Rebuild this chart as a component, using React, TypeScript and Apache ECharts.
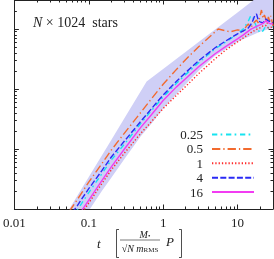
import React, { useEffect, useRef } from "react";
import * as echarts from "echarts";

// ---- axes ----
const xMin = 0.01;
const xMax = 30;
const yMin = 0.001;
const yMax = 3.04;
const xTickLabels = ["0.01", "0.1", "1", "10"];
const xMinorTicks = [
  0.02, 0.03, 0.04, 0.05, 0.06, 0.07, 0.08, 0.09,
  0.2, 0.3, 0.4, 0.5, 0.6, 0.7, 0.8, 0.9,
  2, 3, 4, 5, 6, 7, 8, 9, 20,
];
const yMinorTicks = [
  0.002, 0.003, 0.004, 0.005, 0.006, 0.007, 0.008, 0.009,
  0.02, 0.03, 0.04, 0.05, 0.06, 0.07, 0.08, 0.09,
  0.2, 0.3, 0.4, 0.5, 0.6, 0.7, 0.8, 0.9, 2, 3,
];

// ---- series ----
const seriesNames = ["0.25", "0.5", "1", "4", "16"];

const tA = [0.06, 0.07, 0.08, 0.1, 0.15, 0.2, 0.3, 0.5, 0.7, 1, 1.5, 2, 3, 5, 7, 10, 12, 14, 15, 16, 17, 18, 20, 22, 24, 26, 28, 30];
const yA = [7.2e-4, 9.6e-4, 1.23e-3, 1.88e-3, 3.86e-3, 6.5e-3, 0.01197, 0.0267, 0.0439, 0.0735, 0.123, 0.1734, 0.274, 0.468, 0.611, 0.83, 1.004, 1.362, 1.648, 1.589, 1.312, 1.084, 0.861, 0.929, 1.125, 1.042, 1.084, 1.084];

const tB = [0.055, 0.06, 0.07, 0.08, 0.1, 0.15, 0.2, 0.3, 0.5, 0.7, 1, 1.5, 2, 3, 5, 5.5, 7, 8, 10, 12, 13, 14, 15, 16, 17, 18, 19, 20, 21, 22, 23, 24, 25, 26, 27, 28, 30];
const yB = [9.2e-4, 1.08e-3, 1.43e-3, 1.84e-3, 2.81e-3, 5.68e-3, 9.51e-3, 0.0182, 0.0406, 0.0693, 0.12, 0.21, 0.308, 0.505, 0.895, 1.0, 0.929, 0.895, 0.966, 0.929, 1.084, 1.216, 1.042, 1.169, 1.31, 1.41, 1.262, 1.589, 2.07, 1.5, 1.714, 1.469, 1.216, 1.589, 1.362, 1.648, 1.125];

const tC = [0.07, 0.08, 0.1, 0.15, 0.2, 0.3, 0.5, 0.7, 1, 1.5, 2, 3, 5, 7, 10, 12, 15, 18, 20, 22, 24, 26, 28, 30];
const yC = [6.4e-4, 8.3e-4, 1.26e-3, 2.65e-3, 4.44e-3, 8.49e-3, 0.0182, 0.0288, 0.0473, 0.0778, 0.1097, 0.18, 0.319, 0.45, 0.611, 0.711, 0.861, 0.985, 1.042, 1.125, 1.147, 1.042, 1.063, 1.084];

const tD = [0.06, 0.07, 0.08, 0.1, 0.15, 0.2, 0.3, 0.5, 0.7, 1, 1.5, 2, 3, 5, 7, 10, 12, 14, 15, 16, 17, 18, 19, 20, 22, 24, 26, 28, 30];
const yD = [8.6e-4, 1.13e-3, 1.45e-3, 2.18e-3, 4.35e-3, 7.28e-3, 0.01343, 0.0288, 0.0473, 0.0793, 0.1327, 0.187, 0.296, 0.486, 0.635, 0.83, 0.929, 1.042, 1.169, 1.362, 1.648, 1.78, 1.415, 1.312, 1.262, 1.469, 1.362, 1.312, 1.262];

const tE = [0.07, 0.08, 0.1, 0.15, 0.2, 0.3, 0.5, 0.7, 1, 1.5, 2, 3, 5, 7, 10, 12, 15, 18, 20, 22, 24, 26, 28, 30];
const yE = [7.1e-4, 9.3e-4, 1.41e-3, 2.97e-3, 4.98e-3, 9.89e-3, 0.0229, 0.0376, 0.0643, 0.1074, 0.1486, 0.235, 0.386, 0.514, 0.686, 0.798, 0.985, 1.104, 1.169, 1.239, 1.362, 1.262, 1.216, 1.216];

// ---- shaded band ----
const bandUpperT = [0.0548, 0.1, 0.2, 0.3, 0.6, 1, 3, 10, 16.5, 30];
const bandUpperY = [0.001, 3.42e-3, 0.01405, 0.0321, 0.1327, 0.215, 0.604, 1.89, 3.04, 3.04];
const bandLowerT = [0.1038, 0.15, 0.2, 0.3, 0.5, 0.7, 1, 1.5, 2, 3, 5, 10, 20, 30];
const bandLowerY = [0.001, 1.99e-3, 3.27e-3, 6.75e-3, 0.01624, 0.0267, 0.0473, 0.0807, 0.1183, 0.2018, 0.358, 0.611, 0.895, 1.042];

const colors = ["#17e3f0", "#f26a2e", "#ff2a2a", "#2a2af5", "#f23cf2"];
const dashes: (number[] | "solid")[] = [[5.3, 3.3, 1.7, 3.7], [8.3, 3, 1.3, 3], [1.3, 2], [6, 2.3], "solid"];
const tData = [tA, tB, tC, tD, tE];
const yData = [yA, yB, yC, yD, yE];

const FONT = "Liberation Serif";
const INK = "#222";

export default function App() {
  const ref = useRef<HTMLDivElement>(null);
  useEffect(() => {
    if (!ref.current) return;
    const chart = echarts.init(ref.current, null, { renderer: "svg" });

    const xMain = (v: number) => {
      const l = Math.log10(v);
      if (Math.abs(l - Math.round(l)) > 1e-6) return "";
      return xTickLabels[Math.round(l) + 2] ?? "";
    };

    const baseX = { type: "log", logBase: 10, min: xMin, max: xMax, gridIndex: 0, splitLine: { show: false } };
    const baseY = { type: "log", logBase: 10, min: yMin, max: yMax, gridIndex: 0, splitLine: { show: false } };
    const lineOn = { show: true, lineStyle: { color: INK, width: 1 } };

    const xAxis: any[] = [
      { ...baseX, position: "bottom", axisLine: lineOn, axisTick: { show: true, inside: true, length: 4.5, lineStyle: { color: INK } },
        axisLabel: { show: true, margin: 7, formatter: xMain, showMaxLabel: false, fontFamily: FONT, fontSize: 13, color: INK } },
      { ...baseX, position: "bottom", axisLine: { show: false }, axisTick: { show: true, inside: true, length: 2.5, customValues: xMinorTicks, lineStyle: { color: INK } }, axisLabel: { show: false } },
      { ...baseX, position: "top", axisLine: lineOn, axisTick: { show: true, inside: true, length: 4.5, lineStyle: { color: INK } }, axisLabel: { show: false } },
      { ...baseX, position: "top", axisLine: { show: false }, axisTick: { show: true, inside: true, length: 2.5, customValues: xMinorTicks, lineStyle: { color: INK } }, axisLabel: { show: false } },
    ];
    const yAxis: any[] = [
      { ...baseY, position: "left", axisLine: lineOn, axisTick: { show: true, inside: true, length: 4.5, lineStyle: { color: INK } }, axisLabel: { show: false } },
      { ...baseY, position: "left", axisLine: { show: false }, axisTick: { show: true, inside: true, length: 2.5, customValues: yMinorTicks, lineStyle: { color: INK } }, axisLabel: { show: false } },
      { ...baseY, position: "right", axisLine: lineOn, axisTick: { show: true, inside: true, length: 4.5, lineStyle: { color: INK } }, axisLabel: { show: false } },
      { ...baseY, position: "right", axisLine: { show: false }, axisTick: { show: true, inside: true, length: 2.5, customValues: yMinorTicks, lineStyle: { color: INK } }, axisLabel: { show: false } },
    ];

    const band = {
      type: "custom",
      name: "band",
      coordinateSystem: "cartesian2d",
      xAxisIndex: 0,
      yAxisIndex: 0,
      silent: true,
      clip: true,
      z: 1,
      data: [[1, 0.01]],
      renderItem: (params: any, api: any) => {
        if (params.dataIndex !== 0) return null;
        const pts: number[][] = [];
        for (let i = 0; i < bandUpperT.length; i++) pts.push(api.coord([bandUpperT[i], bandUpperY[i]]));
        for (let i = bandLowerT.length - 1; i >= 0; i--) pts.push(api.coord([bandLowerT[i], bandLowerY[i]]));
        return { type: "polygon", shape: { points: pts }, style: { fill: "#cfcff6", stroke: "none" } };
      },
    };

    const lines = seriesNames.map((name, k) => ({
      type: "line",
      name,
      xAxisIndex: 0,
      yAxisIndex: 0,
      data: tData[k].map((t, i) => [t, yData[k][i]]),
      symbol: "none",
      showSymbol: false,
      clip: true,
      z: 3 + k,
      lineStyle: { color: colors[k], width: 1.4, type: dashes[k] },
      itemStyle: { color: colors[k] },
    }));

    chart.setOption({
      animation: false,
      textStyle: { fontFamily: FONT },
      grid: { left: 11, right: 1, top: -1, bottom: 50, containLabel: false },
      xAxis,
      yAxis,
      legend: {
        orient: "vertical",
        right: 19,
        top: 128,
        align: "right",
        padding: 0,
        itemWidth: 42,
        itemHeight: 14,
        itemGap: 1.4,
        data: seriesNames,
        itemStyle: { opacity: 0 },
        textStyle: { fontFamily: FONT, fontSize: 13, color: INK, padding: [0, 4, 0, 0] },
      },
      series: [band, ...lines],
      graphic: [
        {
          type: "text", x: 33, y: 22,
          style: { text: "{i|N} × 1024  stars", font: `14px ${FONT}`, fill: INK, verticalAlign: "middle",
            rich: { i: { fontStyle: "italic", fontFamily: FONT, fontSize: 14 } } },
        },
        { type: "text", x: 97, y: 243, style: { text: "t", font: `italic 13px ${FONT}`, fill: INK, verticalAlign: "middle" } },
        { type: "polyline", shape: { points: [[119, 229.5], [116.5, 229.5], [116.5, 257.5], [119, 257.5]] }, style: { stroke: INK, lineWidth: 0.8, fill: "none" } },
        { type: "polyline", shape: { points: [[179, 229.5], [181.5, 229.5], [181.5, 257.5], [179, 257.5]] }, style: { stroke: INK, lineWidth: 0.8, fill: "none" } },
        {
          type: "text", x: 145, y: 234,
          style: { text: "{i|M}{s|•}", align: "center", verticalAlign: "middle", fill: INK,
            rich: { i: { fontStyle: "italic", fontFamily: FONT, fontSize: 10 }, s: { fontFamily: FONT, fontSize: 7, padding: [3, 0, 0, 0] } } },
        },
        { type: "line", shape: { x1: 120, y1: 240, x2: 160, y2: 240 }, style: { stroke: INK, lineWidth: 0.6 } },
        {
          type: "text", x: 140, y: 248,
          style: { text: "√{i|N} {i|m}{s|RMS}", align: "center", verticalAlign: "middle", fill: INK, font: `10px ${FONT}`,
            rich: { i: { fontStyle: "italic", fontFamily: FONT, fontSize: 10 }, s: { fontFamily: FONT, fontSize: 7, padding: [4, 0, 0, 0] } } },
        },
        { type: "text", x: 166, y: 241, style: { text: "P", font: `italic 13px ${FONT}`, fill: INK, verticalAlign: "middle" } },
      ],
    });
    return () => chart.dispose();
  }, []);
  return <div ref={ref} style={{ position: "fixed", left: 0, top: 0, width: 274, height: 259 }} />;
}
